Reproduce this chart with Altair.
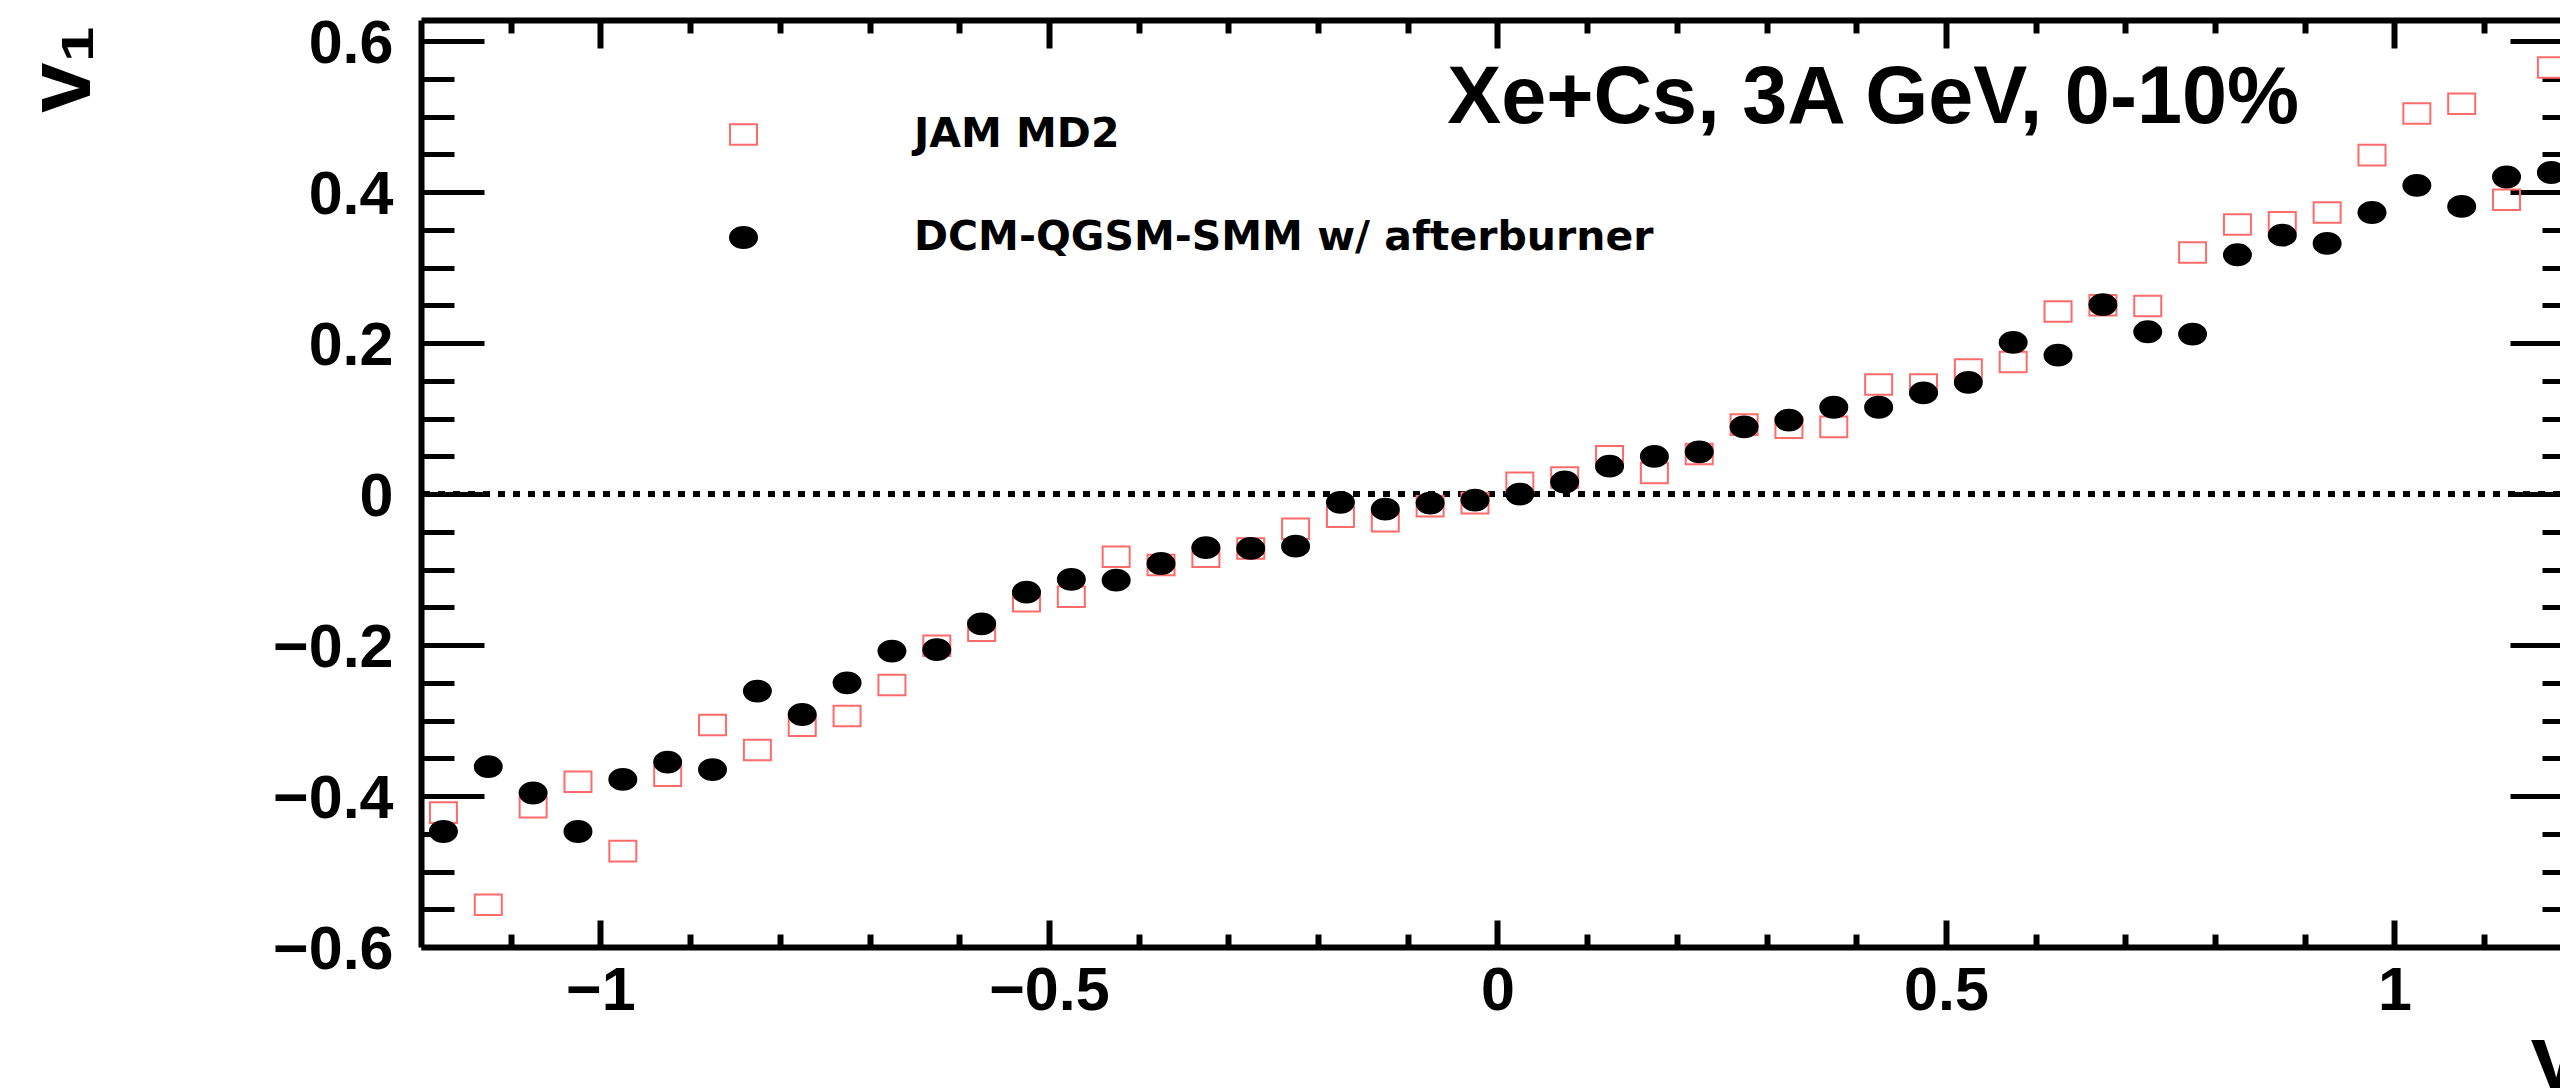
import altair as alt
import pandas as pd

# ---------------- data ----------------
rapidity = [-1.175, -1.125, -1.075, -1.025, -0.975, -0.925, -0.875, -0.825,
            -0.775, -0.725, -0.675, -0.625, -0.575, -0.525, -0.475, -0.425,
            -0.375, -0.325, -0.275, -0.225, -0.175, -0.125, -0.075, -0.025,
            0.025, 0.075, 0.125, 0.175, 0.225, 0.275, 0.325, 0.375,
            0.425, 0.475, 0.525, 0.575, 0.625, 0.675, 0.725, 0.775,
            0.825, 0.875, 0.925, 0.975, 1.025, 1.075, 1.125, 1.175]

jam_md2 = [-0.422, -0.544, -0.415, -0.381, -0.473, -0.373, -0.306, -0.339,
           -0.307, -0.294, -0.253, -0.201, -0.181, -0.142, -0.136, -0.083,
           -0.094, -0.083, -0.072, -0.046, -0.030, -0.036, -0.016, -0.012,
           0.015, 0.022, 0.050, 0.028, 0.053, 0.092, 0.088, 0.089,
           0.145, 0.145, 0.165, 0.175, 0.242, 0.250, 0.249, 0.320,
           0.357, 0.360, 0.373, 0.449, 0.504, 0.517, 0.390, 0.565]

dcm_qgsm_smm = [-0.447, -0.361, -0.396, -0.447, -0.378, -0.355, -0.365, -0.261,
                -0.292, -0.250, -0.208, -0.206, -0.172, -0.130, -0.113, -0.114,
                -0.092, -0.071, -0.072, -0.069, -0.011, -0.020, -0.012, -0.008,
                0.000, 0.016, 0.037, 0.050, 0.056, 0.089, 0.098, 0.115,
                0.115, 0.134, 0.148, 0.201, 0.184, 0.251, 0.215, 0.212,
                0.317, 0.343, 0.332, 0.373, 0.409, 0.381, 0.420, 0.426]

series_names = ["JAM MD2", "DCM-QGSM-SMM w/ afterburner"]

x_major = [-1, -0.5, 0, 0.5, 1]
x_minor = [-1.1, -0.9, -0.8, -0.7, -0.6, -0.4, -0.3, -0.2, -0.1,
           0.1, 0.2, 0.3, 0.4, 0.6, 0.7, 0.8, 0.9, 1.1]
y_major = [-0.6, -0.4, -0.2, 0, 0.2, 0.4, 0.6]
y_minor = [-0.55, -0.5, -0.45, -0.35, -0.3, -0.25, -0.15, -0.1, -0.05,
           0.05, 0.1, 0.15, 0.25, 0.3, 0.35, 0.45, 0.5, 0.55]

plot_title = "Xe+Cs, 3A GeV, 0-10%"
x_title = "y"
y_title = "v\u2081"

# ---------------- tables ----------------
rows = []
for xv, vv in zip(rapidity, jam_md2):
    rows.append({"rap": xv, "v1": vv, "model": series_names[0]})
for xv, vv in zip(rapidity, dcm_qgsm_smm):
    rows.append({"rap": xv, "v1": vv, "model": series_names[1]})
df = pd.DataFrame(rows)

X_DOMAIN = [-1.2, 1.1846]
Y_DOMAIN = [-0.6, 0.628]
W, H = 2139, 927


def xs():
    return alt.Scale(domain=X_DOMAIN, nice=False, zero=False)


def ys():
    return alt.Scale(domain=Y_DOMAIN, nice=False, zero=False)


SQUARE = "M-1,-0.76H1V0.76H-1Z"
ELLIPSE = "M-1,0A1,0.77,0,1,1,1,0A1,0.77,0,1,1,-1,0Z"
FONT = "Liberation Sans"


def tick_axis(orient, values, size, width):
    return alt.Axis(orient=orient, values=values, labels=False, domain=False,
                    grid=False, ticks=True, tickSize=size, tickWidth=width,
                    tickColor="black", offset=-size, title=None)


legend = alt.Legend(title=None, orient="none", legendX=302, legendY=94,
                    padding=0, symbolSize=729, symbolStrokeWidth=2,
                    labelFont="DejaVu Sans", labelFontWeight="bold",
                    labelFontSize=41, labelColor="black", labelOffset=150,
                    labelLimit=3000, rowPadding=61)

x_main_axis = alt.Axis(orient="bottom", values=x_major, format="~g",
                       ticks=False, grid=False, domain=True, domainWidth=6,
                       domainColor="black", labels=True, labelFont=FONT,
                       labelFontWeight="bold", labelFontSize=61,
                       labelColor="black", labelPadding=14,
                       title=x_title, titleFont=FONT, titleFontWeight="bold",
                       titleFontSize=90, titleColor="black", titleX=2109,
                       titleY=140, titleAlign="left",
                       titleBaseline="alphabetic", titleAngle=0)

y_main_axis = alt.Axis(orient="left", values=y_major, format="~g",
                       ticks=False, grid=False, domain=True, domainWidth=6,
                       domainColor="black", labels=True, labelFont=FONT,
                       labelFontWeight="bold", labelFontSize=61,
                       labelColor="black", labelPadding=28, labelOffset=3,
                       title=y_title, titleFont=FONT, titleFontWeight="bold",
                       titleFontSize=90, titleColor="black", titleX=-332,
                       titleY=5, titleAlign="right",
                       titleBaseline="alphabetic", titleAngle=270)

zero_line = alt.Chart(pd.DataFrame({"v1": [0]})).mark_rule(
    color="black", strokeWidth=6, strokeDash=[7, 8]
).encode(y=alt.Y("v1:Q", scale=ys(), axis=None))

points = alt.Chart(df).mark_point(filled=True, opacity=1, size=729,
                                  strokeWidth=2).encode(
    x=alt.X("rap:Q", scale=xs(), axis=x_main_axis),
    y=alt.Y("v1:Q", scale=ys(), axis=y_main_axis),
    shape=alt.Shape("model:N", scale=alt.Scale(domain=series_names,
                                                range=[SQUARE, ELLIPSE]),
                    legend=legend),
    fill=alt.Fill("model:N", scale=alt.Scale(domain=series_names,
                                              range=["transparent", "black"]),
                  legend=legend),
    stroke=alt.Stroke("model:N", scale=alt.Scale(domain=series_names,
                                                  range=["#ff6a6a", "black"]),
                      legend=legend),
)


def dummy(xaxis, yaxis):
    return alt.Chart(df).mark_point(opacity=0).encode(
        x=alt.X("rap:Q", scale=xs(), axis=xaxis),
        y=alt.Y("v1:Q", scale=ys(), axis=yaxis),
    )


bottom_major = dummy(tick_axis("bottom", x_major, 27, 6), tick_axis("left", y_major, 63, 5))
bottom_minor = dummy(tick_axis("bottom", x_minor, 13, 6), tick_axis("left", y_minor, 33, 5))
top_major = dummy(tick_axis("top", x_major, 28, 6), tick_axis("right", y_major, 50, 5))
top_minor = dummy(tick_axis("top", x_minor, 13, 6), tick_axis("right", y_minor, 18, 5))
top_domain = dummy(alt.Axis(orient="top", labels=False, ticks=False, grid=False,
                            domain=True, domainWidth=6, domainColor="black",
                            title=None), None)

title_layer = alt.Chart(pd.DataFrame({"t": [plot_title]})).mark_text(
    align="right", baseline="alphabetic", font=FONT, fontWeight="bold",
    fontSize=81, color="black"
).encode(text="t:N", x=alt.value(1878), y=alt.value(103))

chart = alt.layer(
    zero_line, points, bottom_major, bottom_minor, top_major, top_minor,
    top_domain, title_layer
).resolve_scale(
    x="independent", y="independent"
).properties(
    width=W, height=H,
    autosize=alt.AutoSizeParams(type="none"),
    padding={"left": 421, "top": 20, "right": 0, "bottom": 141},
    background="white",
).configure_view(stroke=None)

chart.save("out.html", embed_options={"renderer": "svg", "actions": False})
